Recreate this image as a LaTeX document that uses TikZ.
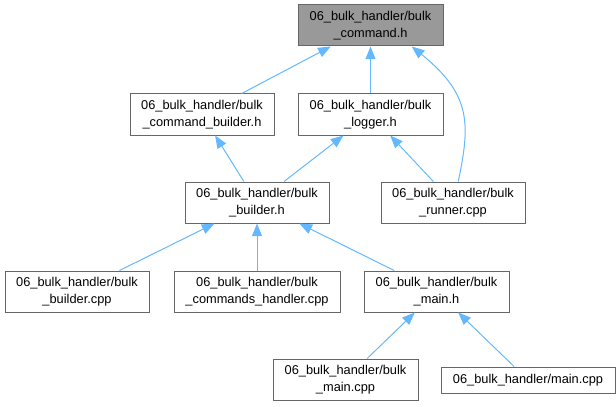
\documentclass[tikz,border=0pt]{standalone}
\usepackage{fontspec}
\setmainfont{Liberation Sans}
\usetikzlibrary{arrows.meta}
\usepackage{xcolor}
\definecolor{depblue}{HTML}{63B8FF}
\definecolor{boxgray}{HTML}{666666}
\definecolor{rootgray}{HTML}{999999}
\newcommand{\bulkdir}{06\_bulk\_handler/bulk}

\begin{document}
\begin{tikzpicture}[
  x=0.75pt, y=-0.75pt,
  file/.style={rectangle, draw=boxgray, line width=0.75pt, fill=white,
               minimum height=30.75pt, inner sep=0pt, align=center,
               font=\fontsize{9.6}{12.75}\selectfont},
  root/.style={file, fill=rootgray},
  dep/.style={{Triangle[length=9.5pt, width=7.5pt]}-, draw=depblue, line width=0.75pt}
]
  \useasboundingbox (0,0) rectangle (616,406);

  \node[root, minimum width=108.75pt] (cmd) at (370.5,25.5) {\bulkdir\\\_command.h};
  \node[file, minimum width=108pt] (cbld) at (202,114.5) {\bulkdir\\\_command\_builder.h};
  \node[file, minimum width=108.75pt] (log) at (370.5,114.5) {\bulkdir\\\_logger.h};
  \node[file, minimum width=108pt] (bld) at (257,202.5) {\bulkdir\\\_builder.h};
  \node[file, minimum width=108pt] (run) at (453,202.5) {\bulkdir\\\_runner.cpp};
  \node[file, minimum width=108pt] (bcpp) at (77,291.5) {\bulkdir\\\_builder.cpp};
  \node[file, minimum width=124.5pt] (chnd) at (257,291.5) {\bulkdir\\\_commands\_handler.cpp};
  \node[file, minimum width=108.75pt] (mainh) at (436.5,291.5) {\bulkdir\\\_main.h};
  \node[file, minimum width=108.75pt] (mcpp) at (345.5,379.5) {\bulkdir\\\_main.cpp};
  \node[file, minimum width=130.5pt, minimum height=19.5pt] (main) at (528,380) {06\_bulk\_handler/main.cpp};

  \draw[dep] (cmd) -- (cbld);
  \draw[dep] (cmd) -- (log);
  \draw[dep] (cmd.-27) .. controls (472,95) and (470,125) .. (run.76);
  \draw[dep] (cbld) -- (bld);
  \draw[dep] (log) -- (bld);
  \draw[dep] (log) -- (run);
  \draw[dep] (bld) -- (bcpp);
  \draw[dep] (bld) -- (chnd);
  \draw[dep] (bld) -- (mainh);
  \draw[dep] (mainh) -- (mcpp);
  \draw[dep] (mainh) -- (main);
\end{tikzpicture}
\end{document}
